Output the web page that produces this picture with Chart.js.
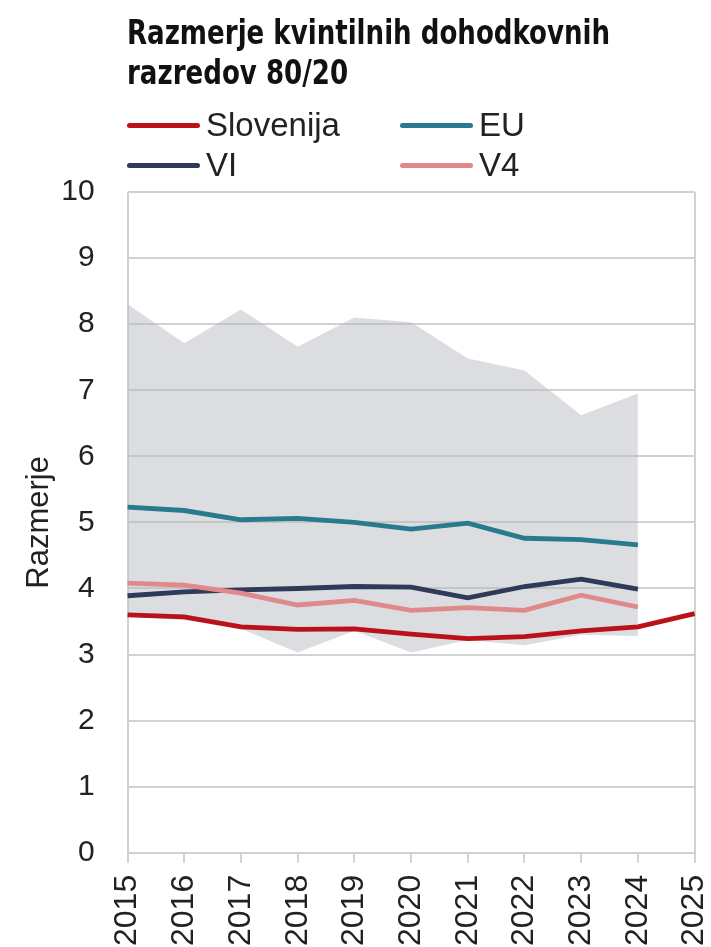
<!DOCTYPE html>
<html>
<head>
<meta charset="utf-8">
<script src="https://cdn.jsdelivr.net/npm/chart.js@4"></script>
<style>
  html, body { margin: 0; padding: 0; background: #fff; overflow: hidden; width: 711px; height: 947px; }
  #wrap { position: relative; width: 745px; height: 966px; }
  #chart { position: absolute; left: 0; top: 0; }
  #title {
    position: absolute; left: 127px; top: 13px; white-space: nowrap;
    font-family: "Liberation Sans Narrow", "DejaVu Sans Condensed", sans-serif;
    font-stretch: condensed; font-weight: bold; font-size: 29px; line-height: 35px; color: #111;
    transform: scaleY(1.15); transform-origin: 0 0;
  }
  #legend {
    position: absolute; left: 127px; top: 105px;
    display: grid; grid-template-columns: 273px 200px; grid-auto-rows: 40px;
    font-family: "Liberation Sans", Arial, sans-serif; font-size: 33px; color: #222;
  }
  .item { display: flex; align-items: center; }
  .swatch { width: 73px; height: 5px; border-radius: 3px; margin-right: 6px; }
</style>
</head>
<body>
<div id="wrap">
  <canvas id="chart" width="745" height="965"></canvas>
  <div id="title">Razmerje kvintilnih dohodkovnih<br>razredov 80/20</div>
  <div id="legend"></div>
</div>
<script>
var years = ["2015", "2016", "2017", "2018", "2019", "2020", "2021", "2022", "2023", "2024", "2025"];
var slovenija = [3.60, 3.57, 3.42, 3.38, 3.39, 3.31, 3.24, 3.27, 3.36, 3.42, 3.62];
var eu = [5.23, 5.18, 5.04, 5.06, 5.00, 4.90, 4.99, 4.76, 4.74, 4.66, null];
var vi = [3.89, 3.95, 3.98, 4.00, 4.03, 4.02, 3.86, 4.03, 4.14, 3.99, null];
var v4 = [4.08, 4.05, 3.93, 3.75, 3.82, 3.67, 3.71, 3.67, 3.90, 3.72, null];
// razpon (min-max) drzav EU
var rangeMax = [8.30, 7.71, 8.22, 7.66, 8.10, 8.03, 7.48, 7.30, 6.62, 6.95, null];
var rangeMin = [3.58, 3.52, 3.39, 3.03, 3.36, 3.03, 3.22, 3.14, 3.30, 3.28, null];

var series = [
  { label: "Slovenija", data: slovenija, color: "#bb111b" },
  { label: "EU", data: eu, color: "#2a7a8f" },
  { label: "VI", data: vi, color: "#2f3a5a" },
  { label: "V4", data: v4, color: "#e0898a" }
];

// legenda
var legend = document.getElementById("legend");
series.forEach(function (s) {
  var item = document.createElement("div");
  item.className = "item";
  item.innerHTML = '<span class="swatch" style="background:' + s.color + '"></span>' + s.label;
  legend.appendChild(item);
});

var datasets = [
  {
    label: "min",
    data: rangeMin,
    borderWidth: 0,
    pointRadius: 0,
    fill: false,
    order: 10
  },
  {
    label: "max",
    data: rangeMax,
    borderWidth: 0,
    pointRadius: 0,
    backgroundColor: "rgba(180,183,190,0.47)",
    fill: "-1",
    order: 10
  }
];
// Slovenija on top
series.slice().reverse().forEach(function (s, i) {
  datasets.push({
    label: s.label,
    data: s.data,
    borderColor: s.color,
    borderWidth: 4.8,
    pointRadius: 0,
    fill: false,
    tension: 0,
    order: i
  });
});
datasets[datasets.length - 1].order = -1;

var ctx = document.getElementById("chart");
var gridGrey = "#d2d2d2";

new Chart(ctx, {
  type: "line",
  data: { labels: years, datasets: datasets },
  options: {
    responsive: false,
    animation: false,
    layout: { padding: { top: 192, left: 21, right: 23, bottom: 7 } },
    plugins: {
      legend: { display: false },
      tooltip: { enabled: false }
    },
    scales: {
      x: {
        offset: false,
        grid: {
          color: function (c) {
            return (c.index === 0 || c.index === years.length - 1) ? gridGrey : "transparent";
          },
          tickColor: gridGrey,
          lineWidth: 2,
          tickLength: 10
        },
        border: { display: true, color: gridGrey, width: 2 },
        ticks: {
          autoSkip: false,
          minRotation: 90,
          maxRotation: 90,
          padding: 12,
          color: "#222",
          font: { family: "Liberation Sans", size: 32 }
        }
      },
      y: {
        min: 0,
        max: 10,
        // tick marks hidden, they only make room between labels and plot
        grid: { color: gridGrey, lineWidth: 2, tickLength: 30, tickColor: "transparent" },
        border: { display: false },
        ticks: {
          stepSize: 1,
          padding: 3,
          color: "#222",
          font: { family: "Liberation Sans", size: 30 }
        },
        title: {
          display: true,
          text: "Razmerje",
          color: "#222",
          font: { family: "Liberation Sans", size: 31 },
          padding: { top: 0, bottom: 0 }
        }
      }
    }
  }
});
</script>
</body>
</html>
